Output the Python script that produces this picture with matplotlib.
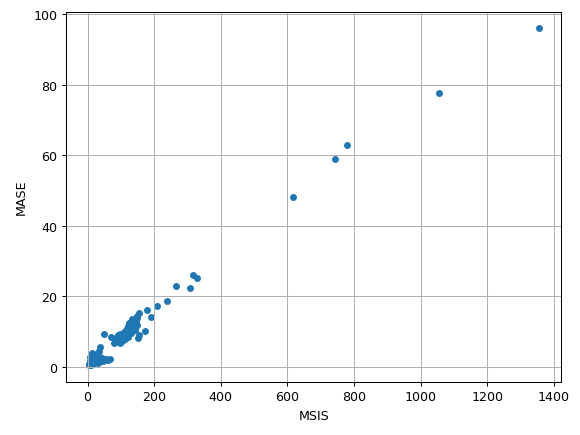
import matplotlib
matplotlib.use("Agg")
import matplotlib.pyplot as plt
import pandas as pd

# lower cluster near the origin
msis_low = [3, 5, 8, 10, 12, 15, 18, 20, 22, 14, 16, 25, 28, 30, 35, 38, 33, 40, 45, 50,
            55, 60, 68, 25, 30, 35, 20, 42, 48, 10, 6, 18, 26, 12, 8, 32, 15]
mase_low = [0.5, 0.8, 1.0, 0.6, 1.5, 2.0, 2.5, 3.0, 3.5, 3.8, 3.2, 2.8, 3.6, 4.0, 4.5, 5.5, 3.0, 2.0, 1.8, 1.9,
            2.2, 2.0, 2.3, 1.5, 1.2, 1.4, 1.0, 2.5, 2.1, 2.2, 1.6, 1.8, 2.2, 0.9, 2.8, 2.6, 0.7]

# middle band
msis_mid = [48, 70, 78, 85, 90, 95, 100, 105, 110, 115, 120, 125, 130, 135, 140, 145, 150, 88, 98, 108,
            118, 128, 138, 148, 155, 152, 154, 112, 122, 132, 142, 102, 92, 125, 135, 140, 145, 120, 130, 115,
            82, 96, 105, 110, 150, 145]
mase_mid = [9.3, 8.5, 6.8, 7.2, 7.6, 8.0, 8.3, 8.8, 9.0, 9.5, 10.0, 10.5, 11.0, 11.8, 12.5, 13.0, 13.8, 8.5, 9.2, 10.0,
            10.8, 11.5, 12.0, 14.5, 15.3, 8.3, 9.0, 7.8, 8.6, 9.6, 10.5, 7.2, 9.0, 12.5, 13.5, 11.2, 11.5, 11.5, 12.8, 10.5,
            7.8, 6.9, 7.5, 8.5, 12.0, 14.0]

# sparse upper points
msis_high = [174, 178, 190, 210, 240, 265, 308, 318, 330, 617, 743, 778, 1055, 1355]
mase_high = [10.2, 16.2, 14.2, 17.2, 18.8, 22.8, 22.3, 26.0, 25.1, 48.2, 59.0, 63.0, 77.7, 96.0]

df = pd.DataFrame({
    "MSIS": msis_low + msis_mid + msis_high,
    "MASE": mase_low + mase_mid + mase_high,
})

fig, ax = plt.subplots(figsize=(6.4, 4.8), dpi=90.78)
fig.subplots_adjust(left=0.1136, right=0.9664, top=0.9717, bottom=0.1218)
df.plot.scatter(x="MSIS", y="MASE", ax=ax, color="#1f77b4")
ax.grid(True)
fig.savefig("out.png", dpi=90.78)
